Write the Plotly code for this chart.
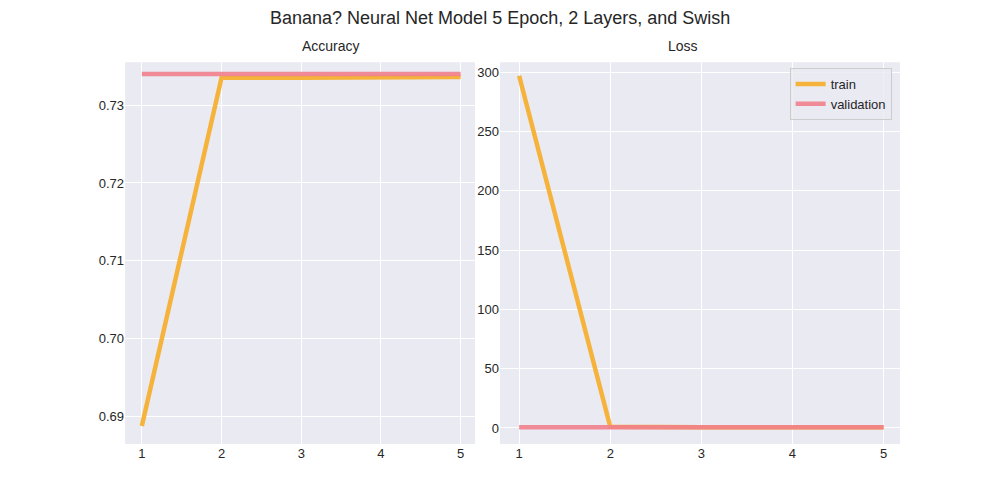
import plotly.graph_objects as go

epochs = [1, 2, 3, 4, 5]
train_acc = [0.6888, 0.7335, 0.7335, 0.7336, 0.7336]
val_acc = [0.7340, 0.7340, 0.7340, 0.7340, 0.7340]
train_loss = [297.0, 1.0, 0.6, 0.58, 0.58]
val_loss = [0.58, 0.58, 0.58, 0.58, 0.58]

TRAIN = "rgba(245,176,50,0.95)"
VAL = "rgba(240,128,140,0.9)"

fig = go.Figure()
fig.add_trace(go.Scatter(x=epochs, y=train_acc, mode="lines", line=dict(color=TRAIN, width=4.5),
                         xaxis="x", yaxis="y", showlegend=False))
fig.add_trace(go.Scatter(x=epochs, y=val_acc, mode="lines", line=dict(color=VAL, width=4.5),
                         xaxis="x", yaxis="y", showlegend=False))
fig.add_trace(go.Scatter(x=epochs, y=train_loss, mode="lines", name="train", line=dict(color=TRAIN, width=4.5),
                         xaxis="x2", yaxis="y2"))
fig.add_trace(go.Scatter(x=epochs, y=val_loss, mode="lines", name="validation", line=dict(color=VAL, width=4.5),
                         xaxis="x2", yaxis="y2"))

ax = dict(showgrid=True, gridcolor="white", gridwidth=1, zeroline=False, showline=False,
          ticks="", tickfont=dict(size=13, color="#262626"))
fig.update_layout(
    width=984, height=484, margin=dict(l=0, r=0, t=0, b=0),
    paper_bgcolor="white", plot_bgcolor="#eaeaf2",
    font=dict(family="Liberation Sans", color="#262626"),
    xaxis=dict(ax, domain=[0.119, 0.4746], range=[0.79, 5.18], tickvals=epochs, anchor="y"),
    yaxis=dict(ax, domain=[0.0992, 0.888], range=[0.6865, 0.7355],
               tickvals=[0.69, 0.70, 0.71, 0.72, 0.73], tickformat=".2f", anchor="x"),
    xaxis2=dict(ax, domain=[0.5, 0.9065], range=[0.79, 5.18], tickvals=epochs, anchor="y2"),
    yaxis2=dict(ax, domain=[0.0992, 0.888], range=[-13.5, 308.4],
                tickvals=[0, 50, 100, 150, 200, 250, 300], anchor="x2"),
    legend=dict(x=0.898, y=0.876, xanchor="right", yanchor="top", bgcolor="rgba(234,234,242,0.8)",
                bordercolor="#cccccc", borderwidth=1, font=dict(size=13)),
    annotations=[
        dict(text="Banana? Neural Net Model 5 Epoch, 2 Layers, and Swish", x=0.5, y=0.979,
             xref="paper", yref="paper", showarrow=False, font=dict(size=18), yanchor="middle"),
        dict(text="Accuracy", x=0.297, y=0.921, xref="paper", yref="paper", showarrow=False,
             font=dict(size=14), yanchor="middle"),
        dict(text="Loss", x=0.703, y=0.921, xref="paper", yref="paper", showarrow=False,
             font=dict(size=14), yanchor="middle"),
    ],
)
fig.write_html("out.html")
